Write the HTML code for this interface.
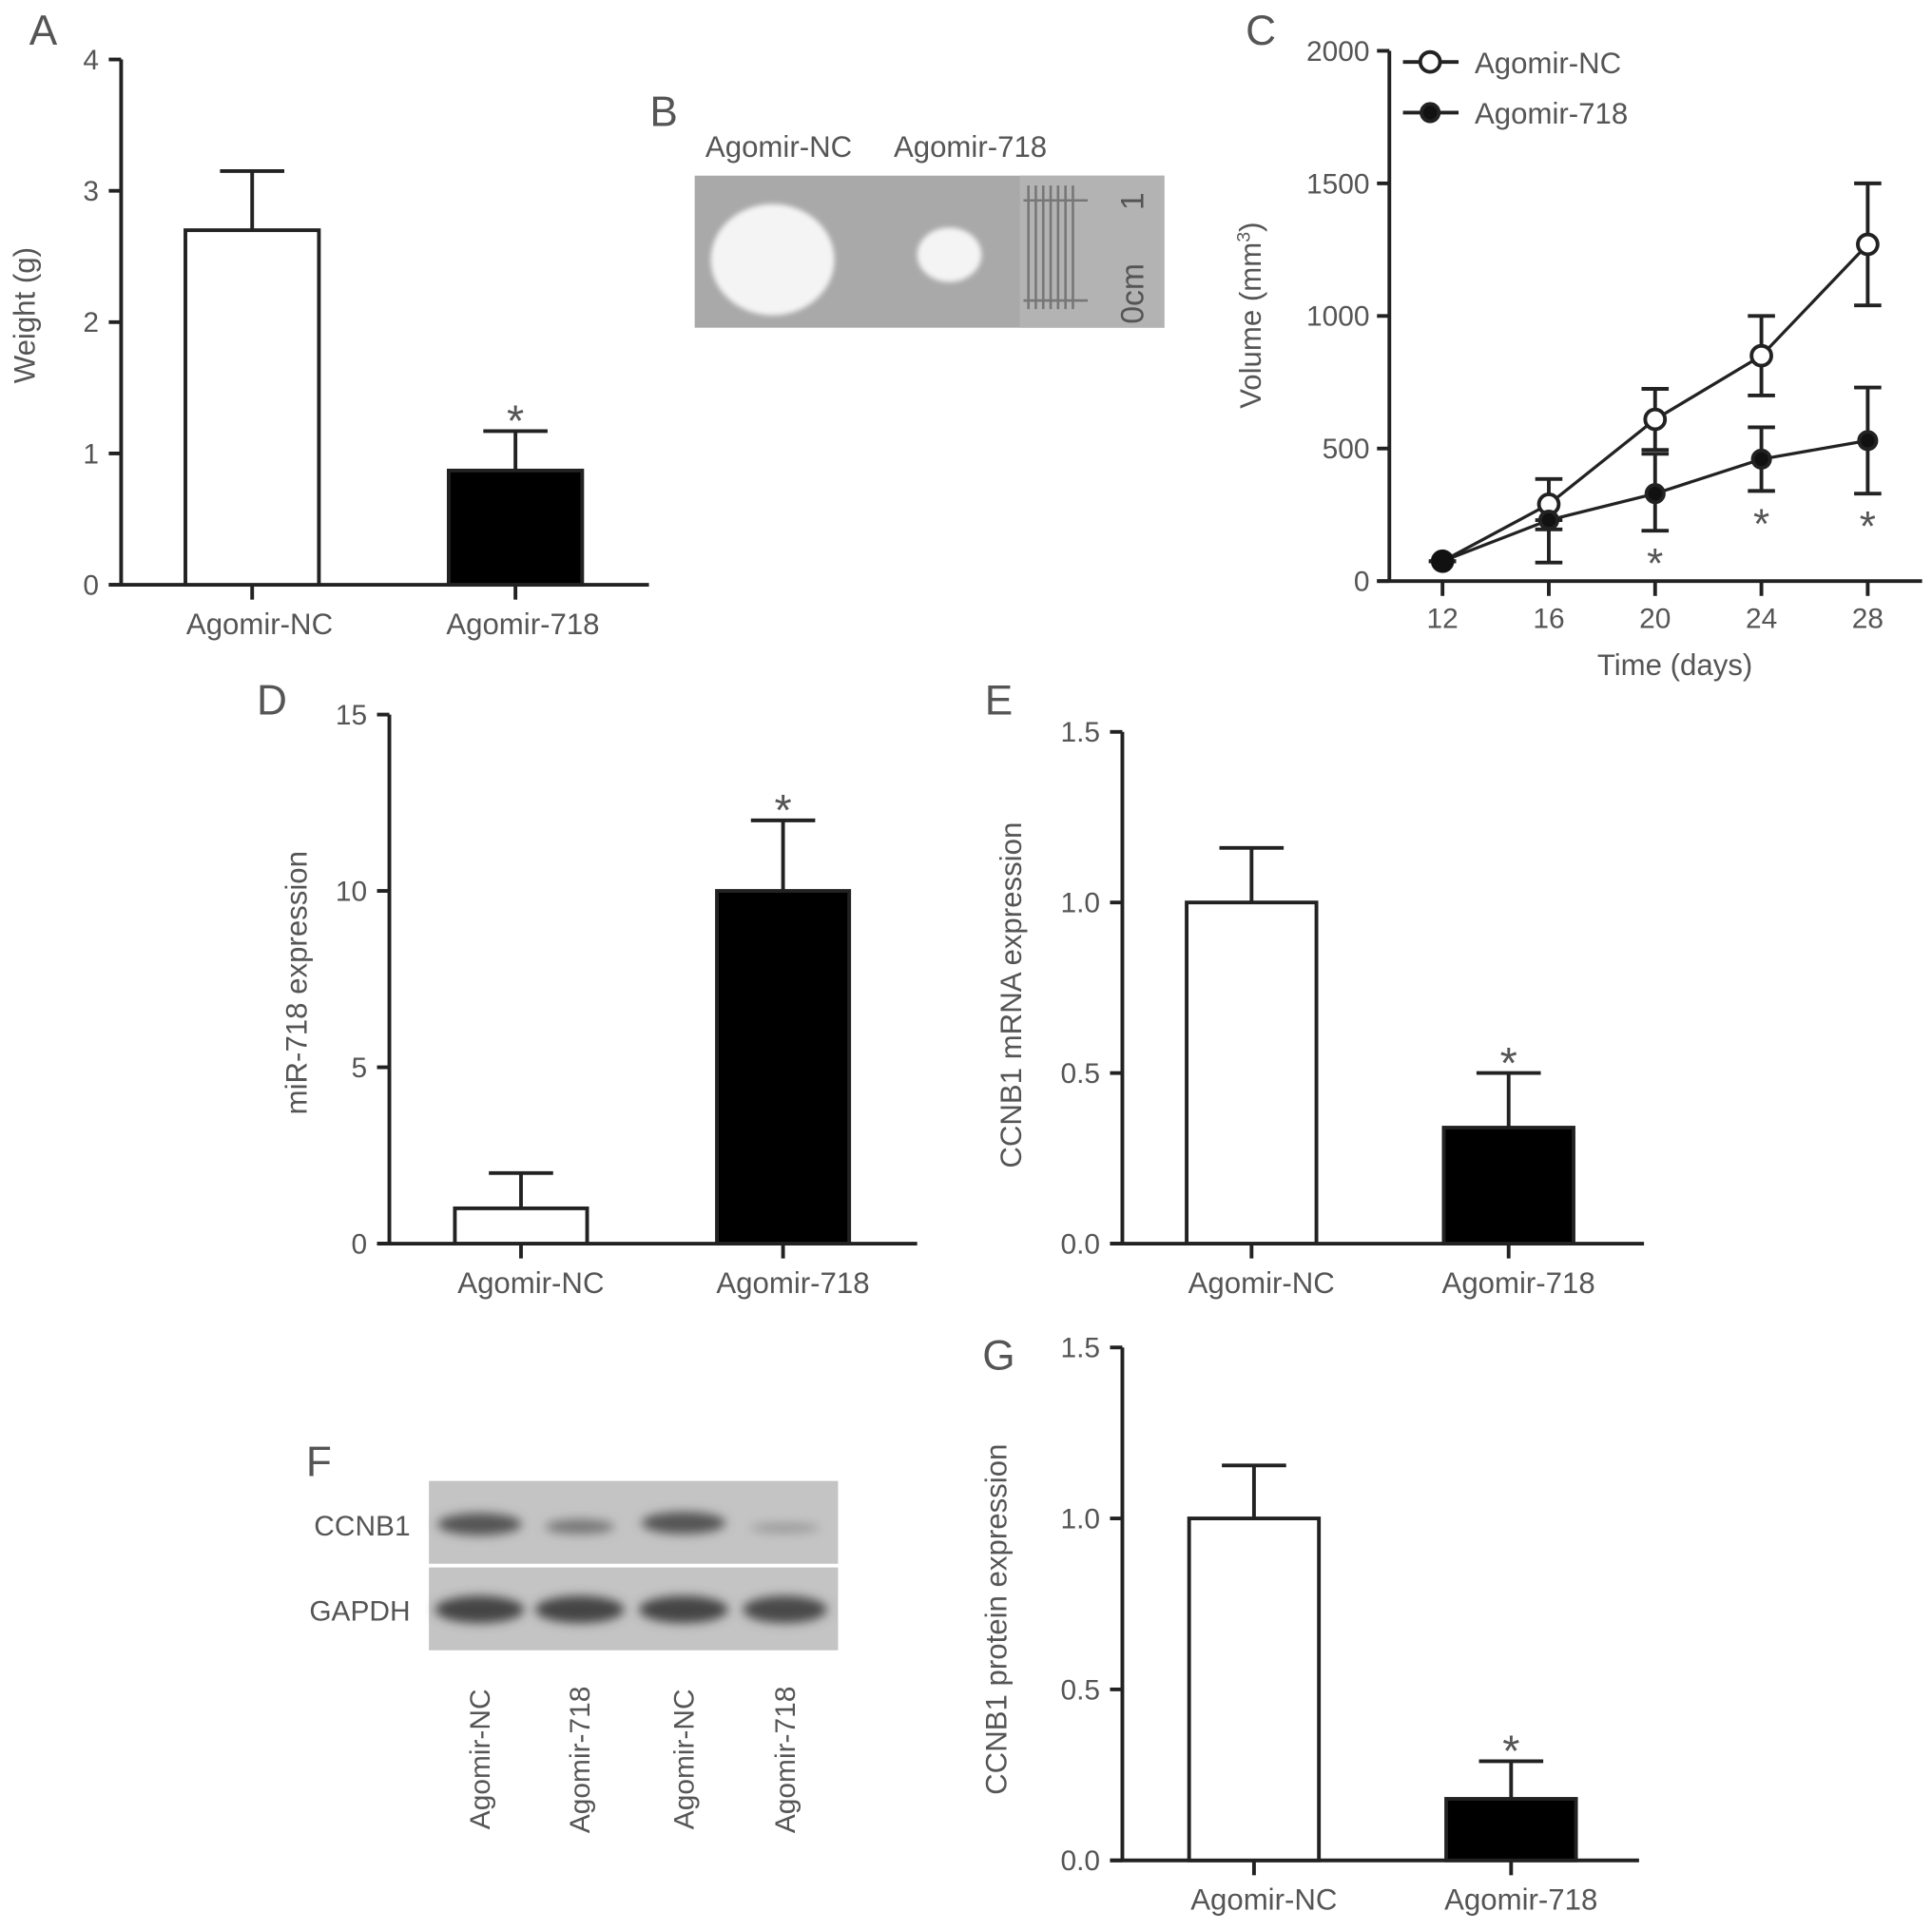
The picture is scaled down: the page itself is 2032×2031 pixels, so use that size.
<!DOCTYPE html>
<html><head><meta charset="utf-8"><style>
html,body{margin:0;padding:0;background:#fff}
svg{display:block}
text{font-family:"Liberation Sans",sans-serif;fill:#555}
</style></head><body>
<svg id="fig" width="2032" height="2031" viewBox="0 0 1563 1562" xmlns="http://www.w3.org/2000/svg">
<defs>
<filter id="blur2"><feGaussianBlur stdDeviation="2"/></filter>
<filter id="blur4"><feGaussianBlur stdDeviation="4"/></filter>
</defs>
<g id="A"></g>
<g id="B">
<text x="537" y="102" font-size="34" text-anchor="middle">B</text>
<text x="630" y="127" font-size="24" text-anchor="middle">Agomir-NC</text>
<text x="785" y="127" font-size="24" text-anchor="middle">Agomir-718</text>
<rect x="562" y="142" width="380" height="123" fill="#a9a9a9"/>
<rect x="825" y="142" width="117" height="123" fill="#b3b3b3"/>
<g stroke="#777" stroke-width="2">
<line x1="832" y1="150" x2="832" y2="250"/><line x1="838" y1="150" x2="838" y2="250"/><line x1="844" y1="150" x2="844" y2="250"/><line x1="850" y1="150" x2="850" y2="250"/><line x1="856" y1="150" x2="856" y2="250"/><line x1="862" y1="150" x2="862" y2="250"/><line x1="868" y1="150" x2="868" y2="250"/>
<line x1="828" y1="162" x2="880" y2="162"/><line x1="828" y1="243" x2="880" y2="243"/>
</g>
<text x="0" y="0" font-size="26" fill="#666" transform="translate(925,262) rotate(-90)">0cm</text>
<text x="0" y="0" font-size="26" fill="#666" transform="translate(925,170) rotate(-90)">1</text>
<ellipse cx="625" cy="210" rx="50" ry="45" fill="#f4f4f4" filter="url(#blur2)"/>
<ellipse cx="768" cy="206" rx="26" ry="22" fill="#f4f4f4" filter="url(#blur2)"/>
</g>
<g id="C"></g>
<g id="D"></g>
<g id="E"></g>
<g id="F">
<text x="258" y="1194" font-size="34" text-anchor="middle">F</text>
<rect x="347" y="1198" width="331" height="67" fill="#c4c4c4"/>
<rect x="347" y="1268" width="331" height="67" fill="#c4c4c4"/>
<text x="332" y="1242" font-size="23" text-anchor="end">CCNB1</text>
<text x="332" y="1311" font-size="23" text-anchor="end">GAPDH</text>
<g filter="url(#blur4)">
<ellipse cx="388" cy="1233" rx="34" ry="9" fill="#555"/>
<ellipse cx="469" cy="1235" rx="28" ry="6" fill="#777"/>
<ellipse cx="553" cy="1232" rx="34" ry="9" fill="#555"/>
<ellipse cx="635" cy="1236" rx="28" ry="4" fill="#999"/>
<ellipse cx="388" cy="1302" rx="36" ry="11" fill="#444"/>
<ellipse cx="469" cy="1302" rx="36" ry="11" fill="#444"/>
<ellipse cx="553" cy="1302" rx="36" ry="11" fill="#444"/>
<ellipse cx="635" cy="1302" rx="34" ry="11" fill="#4a4a4a"/>
</g>
<text transform="translate(396,1480) rotate(-90)" font-size="23">Agomir-NC</text>
<text transform="translate(477,1483) rotate(-90)" font-size="23">Agomir-718</text>
<text transform="translate(561,1480) rotate(-90)" font-size="23">Agomir-NC</text>
<text transform="translate(643,1483) rotate(-90)" font-size="23">Agomir-718</text>
</g>
<g id="G"></g>
</svg>
<script>
const NS="http://www.w3.org/2000/svg";
// Panel A data
const aCats=["Agomir-NC","Agomir-718"];
const aVals=[2.7,0.87];
const aErr=[3.15,1.17];
const aTicks=[0,1,2,3,4];
// Panel C data
const cDays=[12,16,20,24,28];
const cTickLabels=[12,16,20,24,28];
const cNC=[75,290,610,850,1270];
const cNCUp=[75,385,725,1000,1500];
const cNCLo=[75,195,495,700,1040];
const c718=[75,230,330,460,530];
const c718Up=[75,230,480,580,730];
const c718Lo=[75,70,190,340,330];
const cYTicks=[0,500,1000,1500,2000];
const cStars=[20,24,28];
// Panel D data
const dVals=[1.0,10.0];
const dErr=[2.0,12.0];
const dTicks=[0,5,10,15];
// Panel E data
const eVals=[1.0,0.34];
const eErr=[1.16,0.5];
const eTicks=["0.0","0.5","1.0","1.5"];
// Panel G data
const gVals=[1.0,0.18];
const gErr=[1.155,0.29];
const gTicks=["0.0","0.5","1.0","1.5"];

function el(parent,tag,attrs,txt){const e=document.createElementNS(NS,tag);for(const k in attrs)e.setAttribute(k,attrs[k]);if(txt!==undefined)e.textContent=txt;parent.appendChild(e);return e;}
const S={stroke:"#222","stroke-width":3,fill:"none"};

function barChart(gid,o){
  const g=document.getElementById(gid);
  const yS=v=>o.y0-(v-o.ymin)/(o.ymax-o.ymin)*(o.y0-o.y1);
  let t=el(g,"text",{x:o.lx,y:o.ly,"font-size":34,"text-anchor":"middle"},o.letter);
  
  
  let ax=el(g,"line",{x1:o.ax,y1:o.y1,x2:o.ax,y2:o.y0,...S});
  
  
  let bx=el(g,"line",{x1:o.ax-10,y1:o.y0,x2:o.xend,y2:o.y0,...S});
  
  
  o.ticks.forEach(tk=>{const v=parseFloat(tk);const y=yS(v);
    el(g,"line",{x1:o.ax-10,y1:y,x2:o.ax,y2:y,...S});
    const tl=el(g,"text",{x:o.ax-18,y:y+8,"font-size":23,"text-anchor":"end"},String(tk));
    
    
  });
  const yl=el(g,"text",{transform:`translate(${o.ylx},${o.yly}) rotate(-90)`,"font-size":24,"text-anchor":"middle"},o.ytitle);
  
  
  o.vals.forEach((v,i)=>{
    const x=o.bx[i], w=o.bw, y=yS(v);
    el(g,"line",{x1:x+w/2,y1:yS(o.err[i]),x2:x+w/2,y2:y,...S});
    el(g,"line",{x1:x+w/2-26,y1:yS(o.err[i]),x2:x+w/2+26,y2:yS(o.err[i]),...S});
    const r=el(g,"rect",{x:x,y:y,width:w,height:o.y0-y,fill:i==0?"#fff":"#000",stroke:"#222","stroke-width":3});
    
    
    el(g,"line",{x1:x+w/2,y1:o.y0,x2:x+w/2,y2:o.y0+12,...S});
    const cl=el(g,"text",{x:x+w/2+(o.lblShift||0),y:o.y0+40,"font-size":24,"text-anchor":"middle"},aCats[i]);
    
    
  });
  const x=o.bx[1]+o.bw/2;
  const st=el(g,"text",{x:x,y:yS(o.err[1])+4,"font-size":36,"text-anchor":"middle"},"*");
  
  
}

barChart("A",{letter:"A",lx:35,ly:36,ax:98,y0:473,y1:48,ymin:0,ymax:4,xend:525,ticks:aTicks,vals:aVals,err:aErr,bx:[150,363],bw:108,ytitle:"Weight (g)",ylx:28,yly:255,lblShift:6});
barChart("D",{letter:"D",lx:220,ly:578,ax:315,y0:1006,y1:578,ymin:0,ymax:15,xend:742,ticks:dTicks,vals:dVals,err:dErr,bx:[368,580],bw:107,ytitle:"miR-718 expression",ylx:248,yly:795,lblShift:8});
barChart("E",{letter:"E",lx:808,ly:578,ax:908,y0:1006,y1:592,ymin:0,ymax:1.5,xend:1330,ticks:eTicks,vals:eVals,err:eErr,bx:[960,1168],bw:105,ytitle:"CCNB1 mRNA expression",ylx:826,yly:805,lblShift:8});
barChart("G",{letter:"G",lx:808,ly:1108,ax:908,y0:1505,y1:1090,ymin:0,ymax:1.5,xend:1326,ticks:gTicks,vals:gVals,err:gErr,bx:[962,1170],bw:105,ytitle:"CCNB1 protein expression",ylx:814,yly:1310,lblShift:8});

// Panel C line chart
(function(){
  const g=document.getElementById("C");
  const ax=1124,y0=470,y1=41;
  const yS=v=>y0-v/2000*(y0-y1);
  const xS=d=>1167+(d-12)*21.5;
  let t=el(g,"text",{x:1020,y:36,"font-size":34,"text-anchor":"middle"},"C");
  
  
  let a1=el(g,"line",{x1:ax,y1:y1,x2:ax,y2:y0,...S});
  
  
  let a2=el(g,"line",{x1:ax-10,y1:y0,x2:1555,y2:y0,...S});
  
  
  cYTicks.forEach(v=>{const y=yS(v);el(g,"line",{x1:ax-10,y1:y,x2:ax,y2:y,...S});
    const tl=el(g,"text",{x:ax-16,y:y+8,"font-size":23,"text-anchor":"end"},String(v));
    
    });
  cDays.forEach((d,i)=>{const x=xS(d);el(g,"line",{x1:x,y1:y0,x2:x,y2:y0+12,...S});
    const tl=el(g,"text",{x:x,y:y0+38,"font-size":23,"text-anchor":"middle"},String(cTickLabels[i]));
    
    });
  const xt=el(g,"text",{x:1355,y:546,"font-size":24,"text-anchor":"middle"},"Time (days)");
  
  
  const yt=el(g,"text",{transform:"translate(1020,255) rotate(-90)","font-size":24,"text-anchor":"middle"});
  
  
  yt.innerHTML='Volume (mm<tspan dy="-9" font-size="15">3</tspan><tspan dy="9">)</tspan>';
  function series(vals,up,lo,filled,name){
    const pts=cDays.map((d,i)=>xS(d)+","+yS(vals[i])).join(" ");
    const pl=el(g,"polyline",{points:pts,stroke:"#222","stroke-width":2.5,fill:"none"});
    
    
    cDays.forEach((d,i)=>{const x=xS(d);
      el(g,"line",{x1:x,y1:yS(up[i]),x2:x,y2:yS(lo[i]),...S});
      el(g,"line",{x1:x-11,y1:yS(up[i]),x2:x+11,y2:yS(up[i]),...S});
      el(g,"line",{x1:x-11,y1:yS(lo[i]),x2:x+11,y2:yS(lo[i]),...S});
      const c=el(g,"circle",{cx:x,cy:yS(vals[i]),r:filled?7:8,fill:filled?"#111":"#fff",stroke:"#222","stroke-width":3});
      
      
    });
  }
  series(cNC,cNCUp,cNCLo,false,'agomir-nc');
  series(c718,c718Up,c718Lo,true,'agomir-718');
  el(g,"circle",{cx:xS(12),cy:yS(cNC[0]),r:9,fill:"#111"});
  cStars.forEach(d=>{const i=cDays.indexOf(d);
    const st=el(g,"text",{x:xS(d),y:yS(c718Lo[i])+38,"font-size":34,"text-anchor":"middle"},"*");
    
    });
  // legend
  [[50,false,"Agomir-NC"],[91,true,"Agomir-718"]].forEach(([y,f,lab])=>{
    el(g,"line",{x1:1135,y1:y,x2:1180,y2:y,...S});
    el(g,"circle",{cx:1157,cy:y,r:f?7:8,fill:f?"#111":"#fff",stroke:"#222","stroke-width":3});
    const lt=el(g,"text",{x:1193,y:y+9,"font-size":24},lab);
    
    
  });
})();
</script>
</body></html>
